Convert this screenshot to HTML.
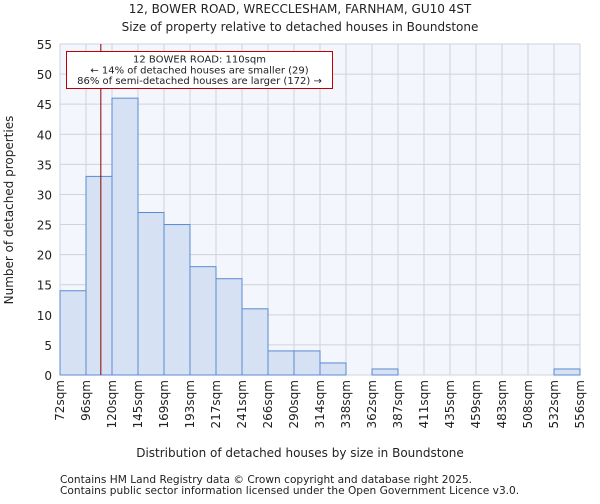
<!DOCTYPE html>
<html><head><meta charset="utf-8"><style>
body{margin:0;background:#fff;font-family:"DejaVu Sans","Liberation Sans",sans-serif;}
svg text{font-family:"DejaVu Sans","Liberation Sans",sans-serif;fill:#222;}
</style></head><body>
<svg id="chart" width="600" height="500" xmlns="http://www.w3.org/2000/svg">
<text x="300" y="13" font-size="12" text-anchor="middle">12, BOWER ROAD, WRECCLESHAM, FARNHAM, GU10 4ST</text>
<text x="300" y="31" font-size="12" text-anchor="middle">Size of property relative to detached houses in Boundstone</text>
<rect x="60" y="44" width="520" height="331" fill="#f3f6fd"/>
<g id="grid"></g>
<g id="bars"></g>
<g id="yticks"></g>
<g id="xticks"></g>
<line id="marker" y1="44" y2="375" stroke="#8b0000" stroke-width="1"/>
<rect x="66.5" y="51.5" width="266" height="37" fill="#fff" stroke="#c00000" stroke-width="1"/>
<text x="199.5" y="62.5" font-size="10" text-anchor="middle">12 BOWER ROAD: 110sqm</text>
<text x="199.5" y="73.5" font-size="10" text-anchor="middle">← 14% of detached houses are smaller (29)</text>
<text x="199.5" y="84" font-size="10" text-anchor="middle">86% of semi-detached houses are larger (172) →</text>
<text x="300" y="457" font-size="12" text-anchor="middle">Distribution of detached houses by size in Boundstone</text>
<text transform="translate(13,210) rotate(-90)" font-size="12" text-anchor="middle">Number of detached properties</text>
<text x="60" y="483" font-size="10.6">Contains HM Land Registry data © Crown copyright and database right 2025.</text>
<text x="60" y="494" font-size="10.6">Contains public sector information licensed under the Open Government Licence v3.0.</text>
</svg>
<script>
const categories=["72sqm","96sqm","120sqm","145sqm","169sqm","193sqm","217sqm","241sqm","266sqm","290sqm","314sqm","338sqm","362sqm","387sqm","411sqm","435sqm","459sqm","483sqm","508sqm","532sqm","556sqm"];
const counts=[14,33,46,27,25,18,16,11,4,4,2,0,1,0,0,0,0,0,0,1];
const yTicks=[0,5,10,15,20,25,30,35,40,45,50,55];
const binStart=72, binWidth=24.2, propertySize=110;
const NS="http://www.w3.org/2000/svg";
const L=60,R=580,T=44,B=375,yMax=55;
const nb=counts.length;
const xs=i=>L+(R-L)*i/nb;
const xv=v=>L+(R-L)*(v-binStart)/(binWidth*nb);
const y=v=>B-(B-T)*v/yMax;
function mk(tag,attrs,parent){const e=document.createElementNS(NS,tag);for(const k in attrs)e.setAttribute(k,attrs[k]);document.getElementById(parent).appendChild(e);return e;}
yTicks.forEach(t=>{
 const g=mk('line',{x1:L,x2:R,y1:y(t),y2:y(t),stroke:'#cfd3da','stroke-width':1},'grid');
 
 
 const tx=mk('text',{x:L-8,y:y(t)+5,'font-size':12,'text-anchor':'end'},'yticks');
 tx.textContent=t;
 
 
});
categories.forEach((c,i)=>{
 const x=xs(i);
 const g=mk('line',{x1:x,x2:x,y1:T,y2:B,stroke:'#cfd3da','stroke-width':1},'grid');
 
 
 const tx=mk('text',{transform:`translate(${x+4},${B+5}) rotate(-90)`,'font-size':12,'text-anchor':'end'},'xticks');
 tx.textContent=c;
 
 
});
counts.forEach((v,i)=>{
 if(v<=0)return;
 const r=mk('rect',{x:xs(i),y:y(v),width:xs(i+1)-xs(i),height:B-y(v),fill:'#d6e1f3',stroke:'#5a8bd0','stroke-width':1},'bars');
 
 
});
const m=document.getElementById('marker');
m.setAttribute('x1',xv(propertySize));m.setAttribute('x2',xv(propertySize));
</script>
</body></html>
